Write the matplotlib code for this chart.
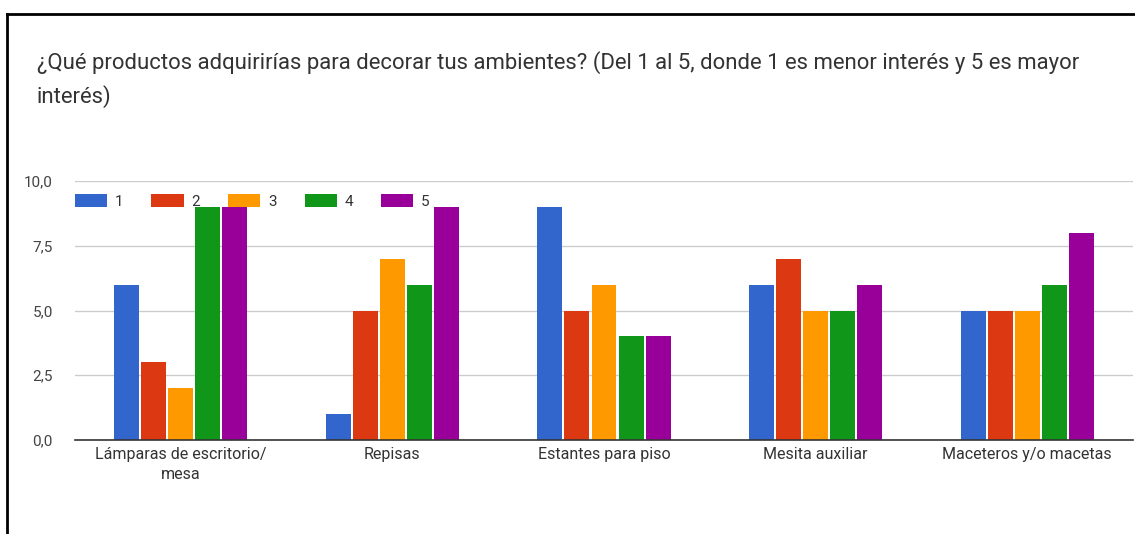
import matplotlib.pyplot as plt
import matplotlib.lines as mlines
import numpy as np

plt.rcParams['font.family'] = ['Roboto', 'DejaVu Sans']

categories = ['Lámparas de escritorio/\nmesa', 'Repisas', 'Estantes para piso',
              'Mesita auxiliar', 'Maceteros y/o macetas']
series_names = ['1', '2', '3', '4', '5']
s1 = [6, 1, 9, 6, 5]
s2 = [3, 5, 5, 7, 5]
s3 = [2, 7, 6, 5, 5]
s4 = [9, 6, 4, 5, 6]
s5 = [9, 9, 4, 6, 8]
yticks = [0, 2.5, 5, 7.5, 10]
ytick_labels = ['0,0', '2,5', '5,0', '7,5', '10,0']
title_lines = ['¿Qué productos adquirirías para decorar tus ambientes? (Del 1 al 5, donde 1 es menor interés y 5 es mayor',
               'interés)']

colors = ['#3366cc', '#dc3912', '#ff9900', '#109618', '#990099']

fig = plt.figure(figsize=(11.35, 5.34), dpi=100)
ax = fig.add_axes([75/1135, 1 - 440/534, 1058/1135, 259/534])

x = np.arange(len(categories))
w = 0.118
step = 0.128
for k, vals in enumerate([s1, s2, s3, s4, s5]):
    ax.bar(x + (k - 2)*step, vals, width=w, color=colors[k], label=series_names[k], zorder=3)

ax.set_xlim(-0.5, 4.5)
ax.set_ylim(0, 10)
ax.set_yticks(yticks)
ax.set_yticklabels(ytick_labels, fontsize=11, color='#444444')
ax.set_xticks(x)
ax.set_xticklabels(categories, fontsize=11.5, color='#333333', linespacing=1.45)
ax.tick_params(length=0, pad=5)
ax.tick_params(axis='y', pad=16)
ax.grid(axis='y', color='#cccccc', linewidth=1, zorder=0)
for s in ['top', 'right', 'left']:
    ax.spines[s].set_visible(False)
ax.spines['bottom'].set_color('#333333')
ax.spines['bottom'].set_linewidth(1.2)
ax.spines['bottom'].set_zorder(4)

ax.legend(loc='center left', bbox_to_anchor=(0.0, 0.92), ncol=5, frameon=False,
          fontsize=11, handlelength=2.1, handleheight=0.9, handletextpad=0.5,
          columnspacing=1.85, borderpad=0, borderaxespad=0, labelcolor='#333333')

fig.text(37/1135, 1 - 63/534, title_lines[0], fontsize=15.9, color='#333333',
         va='center', ha='left')
fig.text(37/1135, 1 - 97/534, title_lines[1], fontsize=15.9, color='#333333',
         va='center', ha='left')

# frame around the chart
fig.add_artist(mlines.Line2D([7/1135, 1], [1 - 14/534, 1 - 14/534], color='black', linewidth=2))
fig.add_artist(mlines.Line2D([7/1135, 7/1135], [0, 1 - 14/534], color='black', linewidth=2))

fig.savefig('out.png', dpi=100)
